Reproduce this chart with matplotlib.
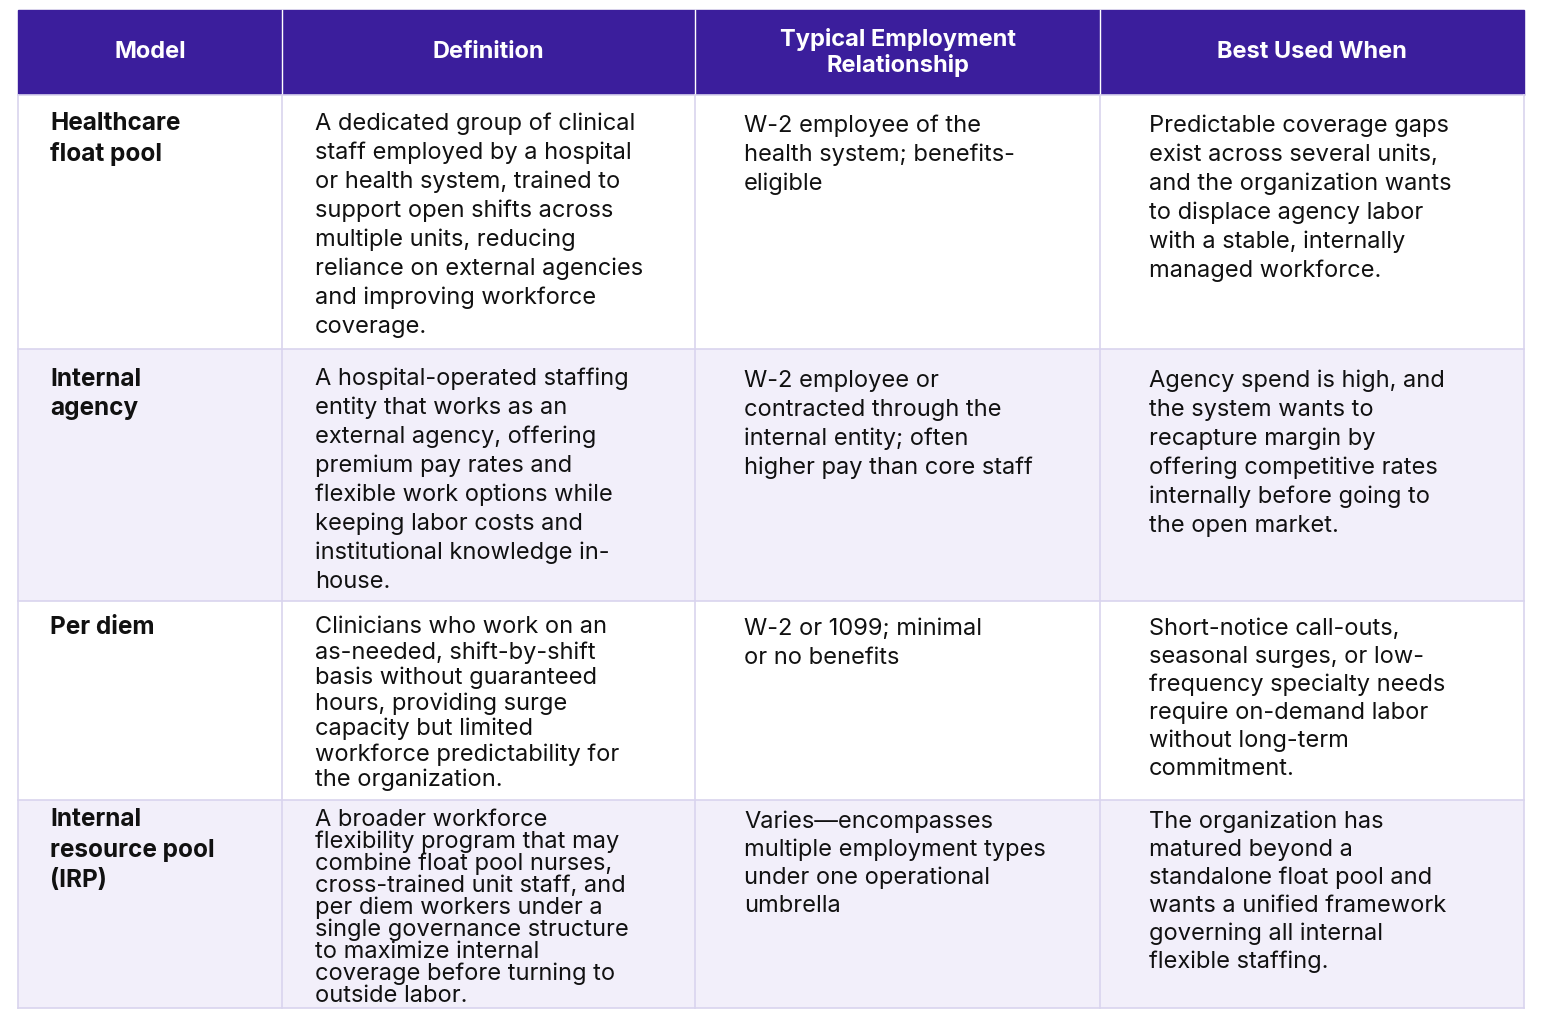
import matplotlib
matplotlib.use("Agg")
import matplotlib.pyplot as plt
from matplotlib.patches import Rectangle

headers = ["Model", "Definition", "Typical Employment\nRelationship", "Best Used When"]
models = ["Healthcare\nfloat pool", "Internal\nagency", "Per diem", "Internal\nresource pool\n(IRP)"]
definitions = [
    "A dedicated group of clinical\nstaff employed by a hospital\nor health system, trained to\nsupport open shifts across\nmultiple units, reducing\nreliance on external agencies\nand improving workforce\ncoverage.",
    "A hospital-operated staffing\nentity that works as an\nexternal agency, offering\npremium pay rates and\nflexible work options while\nkeeping labor costs and\ninstitutional knowledge in-\nhouse.",
    "Clinicians who work on an\nas-needed, shift-by-shift\nbasis without guaranteed\nhours, providing surge\ncapacity but limited\nworkforce predictability for\nthe organization.",
    "A broader workforce\nflexibility program that may\ncombine float pool nurses,\ncross-trained unit staff, and\nper diem workers under a\nsingle governance structure\nto maximize internal\ncoverage before turning to\noutside labor.",
]
relationships = [
    "W-2 employee of the\nhealth system; benefits-\neligible",
    "W-2 employee or\ncontracted through the\ninternal entity; often\nhigher pay than core staff",
    "W-2 or 1099; minimal\nor no benefits",
    "Varies\u2014encompasses\nmultiple employment types\nunder one operational\numbrella",
]
best_used = [
    "Predictable coverage gaps\nexist across several units,\nand the organization wants\nto displace agency labor\nwith a stable, internally\nmanaged workforce.",
    "Agency spend is high, and\nthe system wants to\nrecapture margin by\noffering competitive rates\ninternally before going to\nthe open market.",
    "Short-notice call-outs,\nseasonal surges, or low-\nfrequency specialty needs\nrequire on-demand labor\nwithout long-term\ncommitment.",
    "The organization has\nmatured beyond a\nstandalone float pool and\nwants a unified framework\ngoverning all internal\nflexible staffing.",
]

W, H = 1548, 1016
fig = plt.figure(figsize=(W/100, H/100), dpi=100)
ax = fig.add_axes([0, 0, 1, 1])
ax.set_xlim(0, W); ax.set_ylim(H, 0); ax.axis("off")
plt.rcParams['font.family'] = ['Inter', 'DejaVu Sans']

cols = [18, 282, 695, 1100, 1524]
rows = [10, 95, 349, 601, 800, 1008]
header_c = "#3B1E9C"
line_c = "#D9D4EE"
bgs = ["#FFFFFF", "#F2EFFA", "#FFFFFF", "#F2EFFA"]

ax.add_patch(Rectangle((cols[0], rows[0]), cols[-1]-cols[0], rows[1]-rows[0], color=header_c))
for i in range(1, 4):
    ax.plot([cols[i]]*2, [rows[0], rows[1]], color="#FFFFFF", lw=1)
for j, h in enumerate(headers):
    ax.text((cols[j]+cols[j+1])/2, (rows[0]+rows[1])/2, h, color="white", fontsize=17,
            fontweight="bold", ha="center", va="center", linespacing=1.15)

for r in range(4):
    ax.add_patch(Rectangle((cols[0], rows[r+1]), cols[-1]-cols[0], rows[r+2]-rows[r+1],
                           facecolor=bgs[r], edgecolor="none"))
for y in rows[1:]:
    ax.plot([cols[0], cols[-1]], [y, y], color=line_c, lw=1.2)
for x in cols:
    ax.plot([x, x], [rows[1], rows[-1]], color=line_c, lw=1.2)

starts = [124, 379, 627, 820]
xs = [50, 315, 744, 1149]
spacing = [[30, 29, 29, 29], [30, 29, 29, 29], [29, 25.5, 29, 28], [30, 22, 28, 28]]
for r in range(4):
    cells = [models[r], definitions[r], relationships[r], best_used[r]]
    for c, txt in enumerate(cells):
        y0 = starts[r] + (2 if c >= 2 else 0)
        for k, line in enumerate(txt.split("\n")):
            ax.text(xs[c], y0 + k*spacing[r][c], line, fontsize=17 if c else 17.5,
                    fontweight="bold" if c == 0 else "normal", color="#111111",
                    ha="left", va="center")

fig.savefig("out.png", dpi=100)
